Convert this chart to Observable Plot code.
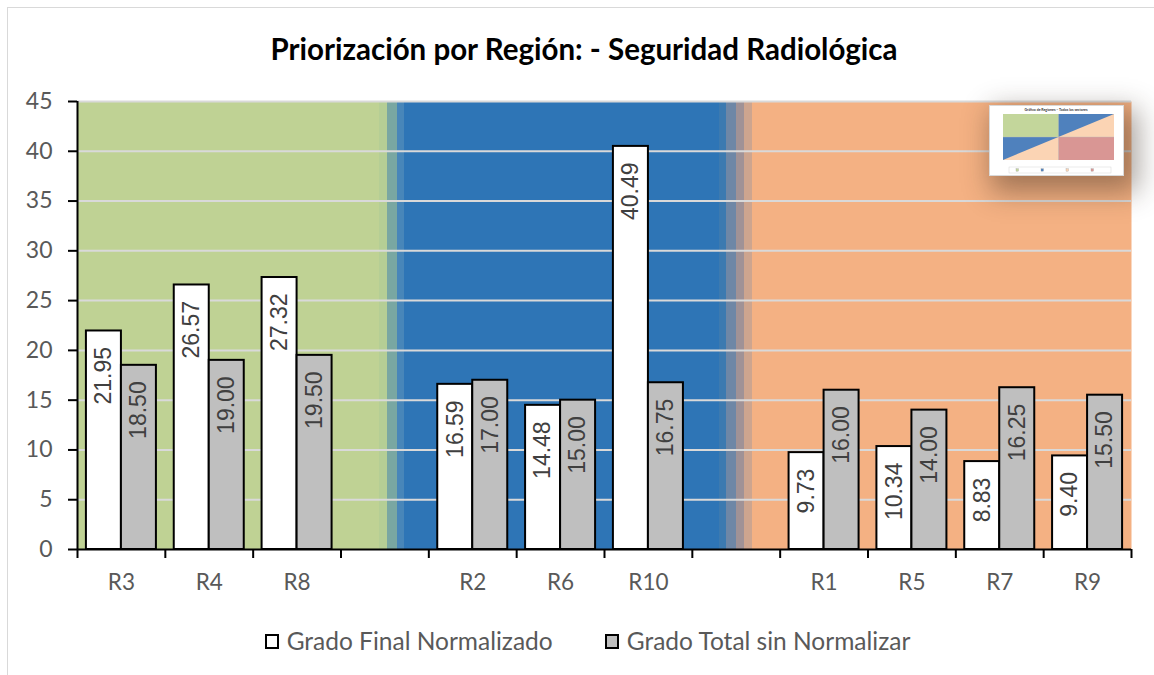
<!DOCTYPE html>
<html>
<head>
<meta charset="utf-8">
<script src="https://cdn.jsdelivr.net/npm/d3@7"></script>
<script src="https://cdn.jsdelivr.net/npm/@observablehq/plot@0.6"></script>
<style>
  html, body { margin: 0; padding: 0; background: #fff; }
  body { width: 1154px; height: 675px; overflow: hidden; position: relative; font-family: Lato, "Open Sans", sans-serif; }
  #border { position: absolute; left: 7px; top: 7px; width: 1300px; height: 800px; border: 1.5px solid #d9d9d9; box-sizing: border-box; pointer-events: none; }
  #title { height: 80px; box-sizing: border-box; padding-top: 32px; text-align: center; font-weight: bold; font-size: 29.5px; line-height: 34px; color: #000; font-family: Lato, sans-serif; padding-left: 14px; }
  #chart svg { display: block; }
  #legend { display: flex; justify-content: center; align-items: center; gap: 52px; padding-top: 28px; padding-left: 21px; font-size: 24.5px; line-height: 28px; color: #595959; font-family: Lato, sans-serif; }
  .item { display: flex; align-items: center; gap: 8px; }
  .sw { width: 14px; height: 15px; border: 2px solid #000; box-sizing: border-box; }
  #thumb { position: absolute; left: 989px; top: 105px; width: 135px; height: 71px; background: #fff; box-shadow: 8px 10px 26px 6px rgba(50,35,25,0.42); }
</style>
</head>
<body>
<div id="border"></div>
<div id="title"></div>
<div id="chart"></div>
<div id="legend"></div>
<div id="thumb"></div>
<script>
// ---- data ----
const titleText = "Priorización por Región: - Seguridad Radiológica";
const regions = ["R3", "R4", "R8", " ", "R2", "R6", "R10", "  ", "R1", "R5", "R7", "R9"];
const gradoFinal = [21.95, 26.57, 27.32, null, 16.59, 14.48, 40.49, null, 9.73, 10.34, 8.83, 9.40];
const gradoTotal = [18.50, 19.00, 19.50, null, 17.00, 15.00, 16.75, null, 16.00, 14.00, 16.25, 15.50];
const seriesNames = ["Grado Final Normalizado", "Grado Total sin Normalizar"];
const yTicks = [0, 5, 10, 15, 20, 25, 30, 35, 40, 45];

// background bands (fraction of plot width, colour)
const bgStops = [
  [0.0000, 0.2865, "#bfd294"],
  [0.2865, 0.2941, "#b5ce95"],
  [0.2941, 0.3027, "#79a7a2"],
  [0.3027, 0.3102, "#4886b9"],
  [0.3102, 0.6082, "#2e75b6"],
  [0.6082, 0.6157, "#3c7ab0"],
  [0.6157, 0.6243, "#6e87a6"],
  [0.6243, 0.6319, "#a09296"],
  [0.6319, 0.6395, "#cda58f"],
  [0.6395, 1.0000, "#f4b183"]
];

const rows = regions.map((r, i) => ({region: r, final: gradoFinal[i], total: gradoTotal[i]}));
const rowsF = rows.filter(d => d.final != null);
const rowsT = rows.filter(d => d.total != null);

const W = 1154, H = 519, ML = 77, MR = 23, MT = 21, MB = 50;
const step = (W - ML - MR) / regions.length;
const barW = 35;
const outer = (step - 2 * barW) / 2;

document.getElementById("title").textContent = titleText;

const chart = Plot.plot({
  width: W, height: H,
  marginLeft: ML, marginRight: MR, marginTop: MT, marginBottom: MB,
  style: {fontFamily: "Lato, sans-serif", background: "transparent"},
  x: {domain: regions, padding: 0, round: false, axis: null, label: null},
  y: {domain: [0, 45], axis: null, label: null},
  marks: [
    Plot.frame({fill: "url(#bgGrad)", stroke: "none"}),
    Plot.gridY({ticks: yTicks.filter(v => v > 0), stroke: "#d9d9d9", strokeOpacity: 1, strokeWidth: 2}),
    Plot.barY(rowsF, {x: "region", y: "final", fill: "#ffffff", stroke: "#000", strokeWidth: 2,
      insetLeft: outer, insetRight: outer + barW}),
    Plot.barY(rowsT, {x: "region", y: "total", fill: "#bfbfbf", stroke: "#000", strokeWidth: 2,
      insetLeft: outer + barW, insetRight: outer}),
    Plot.text(rowsF, {x: "region", y: "final", text: d => d.final.toFixed(2), rotate: -90,
      textAnchor: "end", lineAnchor: "middle", dx: -barW / 2, dy: 16,
      fontSize: 23, fontFamily: "Liberation Sans, Arial, sans-serif", fill: "#404040"}),
    Plot.text(rowsT, {x: "region", y: "total", text: d => d.total.toFixed(2), rotate: -90,
      textAnchor: "end", lineAnchor: "middle", dx: barW / 2, dy: 16,
      fontSize: 23, fontFamily: "Liberation Sans, Arial, sans-serif", fill: "#404040"}),
    Plot.ruleY([0], {stroke: "#000", strokeWidth: 2}),
    Plot.ruleX([regions[0]], {x: d => d, y1: 0, y2: 45, dx: -step / 2, stroke: "#000", strokeWidth: 2}),
    Plot.axisY({ticks: yTicks, tickSize: 9, tickPadding: 16, stroke: "#000", strokeWidth: 2,
      fill: "#595959", fontSize: 23, label: null}),
    Plot.axisX({ticks: regions, tickSize: 9, dx: -step / 2, stroke: "#000", strokeWidth: 2, fill: "none", label: null}),
    Plot.axisX({ticks: [regions[regions.length - 1]], tickSize: 9, dx: step / 2, stroke: "#000", strokeWidth: 2, fill: "none", label: null}),
    Plot.axisX({ticks: regions, tickSize: 0, tickPadding: 25, fill: "#595959", fontSize: 22.5, label: null})
  ]
});

// gradient definition for the plot-area background
const ns = "http://www.w3.org/2000/svg";
const defs = document.createElementNS(ns, "defs");
const grad = document.createElementNS(ns, "linearGradient");
grad.setAttribute("id", "bgGrad");
grad.setAttribute("x1", "0"); grad.setAttribute("x2", "1");
grad.setAttribute("y1", "0"); grad.setAttribute("y2", "0");
for (const [a, b, c] of bgStops) {
  for (const o of [a, b]) {
    const s = document.createElementNS(ns, "stop");
    s.setAttribute("offset", o);
    s.setAttribute("stop-color", c);
    grad.appendChild(s);
  }
}
defs.appendChild(grad);
chart.insertBefore(defs, chart.firstChild);
document.getElementById("chart").appendChild(chart);

// legend
const legend = document.getElementById("legend");
const legendFills = ["#ffffff", "#bfbfbf"];
seriesNames.forEach((name, i) => {
  const it = document.createElement("div");
  it.className = "item";
  const sw = document.createElement("div");
  sw.className = "sw";
  sw.style.background = legendFills[i];
  const tx = document.createElement("span");
  tx.textContent = name;
  it.appendChild(sw); it.appendChild(tx);
  legend.appendChild(it);
});

// small thumbnail picture in the top-right corner (decoration)
document.getElementById("thumb").innerHTML = `
<svg width="135" height="71" viewBox="0 0 135 71">
  <rect x="0.5" y="0.5" width="134" height="70" fill="#fff" stroke="#d9d9d9"/>
  <text x="67" y="5.5" font-size="3.5" text-anchor="middle" font-family="Lato" font-weight="bold" fill="#333">Gráfico de Regiones – Todos los sectores</text>
  <rect x="14" y="9" width="111" height="46" fill="#fbd4b4"/>
  <polygon points="14,55 14,9 125,9" fill="#4f81bd"/>
  <rect x="14" y="9" width="55.5" height="23" fill="#c3d69b"/>
  <rect x="69.5" y="32" width="55.5" height="23" fill="#d99694"/>
  <line x1="69.5" y1="9" x2="69.5" y2="55" stroke="#bbb" stroke-width="0.4"/>
  <line x1="14" y1="32" x2="125" y2="32" stroke="#bbb" stroke-width="0.4"/>
  <rect x="20" y="62" width="102" height="6" fill="#fff" stroke="#ccc" stroke-width="0.4"/>
  <rect x="27" y="63.7" width="2.5" height="2.5" fill="#c3d69b" stroke="#999" stroke-width="0.3"/>
  <rect x="52" y="63.7" width="2.5" height="2.5" fill="#4f81bd" stroke="#999" stroke-width="0.3"/>
  <rect x="77" y="63.7" width="2.5" height="2.5" fill="#fbd4b4" stroke="#999" stroke-width="0.3"/>
  <rect x="102" y="63.7" width="2.5" height="2.5" fill="#d99694" stroke="#999" stroke-width="0.3"/>
</svg>`;
</script>
</body>
</html>
